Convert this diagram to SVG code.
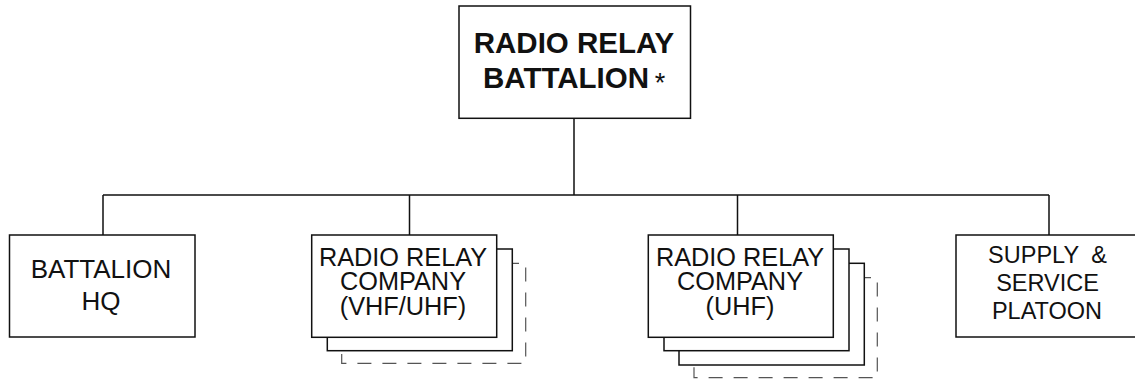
<svg xmlns="http://www.w3.org/2000/svg" width="1135" height="381" viewBox="0 0 1135 381">
<style>
.box{fill:#fff;stroke:#111;stroke-width:1.5}
.dash{fill:none;stroke:#555;stroke-width:1.2;stroke-dasharray:14 11}
.ln{fill:none;stroke:#111;stroke-width:1.5}
.t{font-family:"Liberation Sans",Arial,sans-serif;fill:#111;text-anchor:middle}
.c{font-size:25.3px}
.s{font-size:23.5px}
.tb{font-family:"Liberation Sans",Arial,sans-serif;fill:#111;text-anchor:middle;font-weight:bold;font-size:29.5px}
</style>
<rect width="1135" height="381" fill="#fff"/>
<g id="connectors">
<path class="ln" d="M574 118V195M103 195H1049M103 195V235M409.5 195V235M737.5 195V235M1049 195V235"/>
</g>
<g id="battalion">
<rect class="box" x="459" y="6" width="231.5" height="112.3"/>
<text class="tb" x="574" y="53">RADIO RELAY</text>
<text class="tb" x="566" y="88">BATTALION</text>
<text class="t" x="660" y="92" style="font-size:27px">*</text>
</g>
<g id="hq">
<rect class="box" x="9.5" y="235" width="185.5" height="102"/>
<text class="t" x="101" y="278" style="font-size:26px">BATTALION</text>
<text class="t" x="101" y="310" style="font-size:26px">HQ</text>
</g>
<g id="company-vhf-uhf">
<path class="dash" d="M505 263.3H525.7V363.3H341.7V350"/>
<rect class="box" x="327.3" y="249" width="185" height="101.7"/>
<rect class="box" x="311.7" y="235" width="185" height="102.3"/>
<text class="t c" x="403" y="265.7">RADIO RELAY</text>
<text class="t c" x="403" y="290">COMPANY</text>
<text class="t c" x="403" y="314.5">(VHF/UHF)</text>
</g>
<g id="company-uhf">
<path class="dash" d="M857 277.7H877.3V377.7H694V364"/>
<rect class="box" x="679" y="263.3" width="185.3" height="101.7"/>
<rect class="box" x="664" y="249" width="185" height="101.7"/>
<rect class="box" x="648.3" y="235" width="185" height="102.3"/>
<text class="t c" x="740" y="265.7">RADIO RELAY</text>
<text class="t c" x="740" y="290">COMPANY</text>
<text class="t c" x="740" y="314.5">(UHF)</text>
</g>
<g id="supply">
<rect class="box" x="956" y="235" width="185" height="102"/>
<text class="t s" x="1047.5" y="263" style="word-spacing:6px">SUPPLY &amp;</text>
<text class="t s" x="1047.5" y="291">SERVICE</text>
<text class="t s" x="1047" y="318.5">PLATOON</text>
</g>
</svg>
